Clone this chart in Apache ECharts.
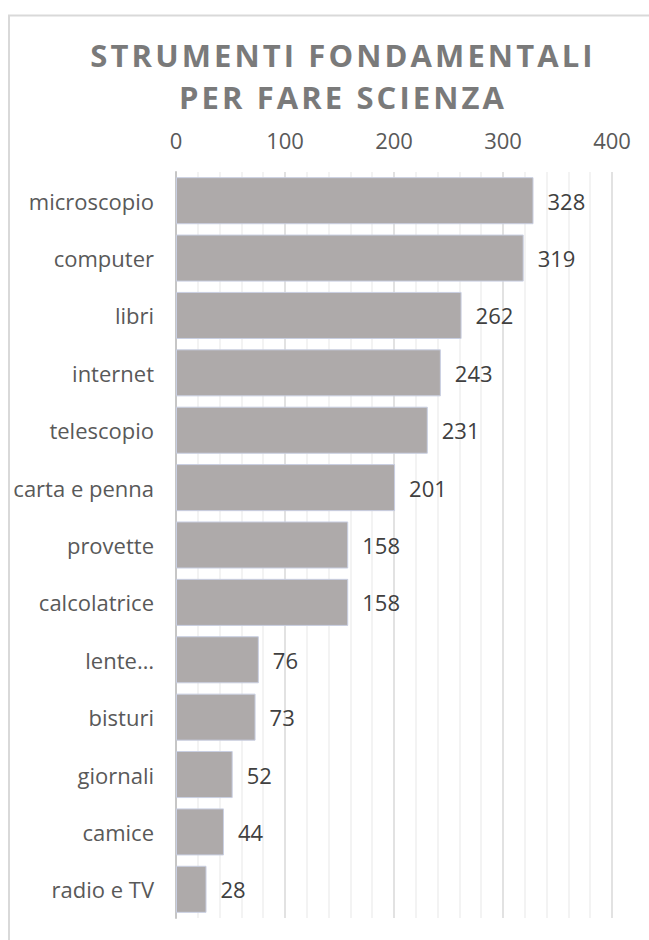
<!DOCTYPE html>
<html>
<head>
<meta charset="utf-8">
<script src="https://cdn.jsdelivr.net/npm/echarts@6/dist/echarts.min.js"></script>
<style>
  html, body { margin: 0; padding: 0; background: #ffffff; }
  #chart { width: 649px; height: 940px; }
  /* wide tracking for the bold chart heading */
  #chart text[style*="bold"] { letter-spacing: 3.1px; }
</style>
</head>
<body>
<div id="chart"></div>
<script>
const titleText = 'STRUMENTI FONDAMENTALI\nPER FARE SCIENZA';
const categories = ['microscopio', 'computer', 'libri', 'internet', 'telescopio', 'carta e penna',
  'provette', 'calcolatrice', 'lente…', 'bisturi', 'giornali', 'camice', 'radio e TV'];
const values = [328, 319, 262, 243, 231, 201, 158, 158, 76, 73, 52, 44, 28];
const axisMin = 0, axisMax = 400, axisStep = 100;

const FONT = '"Open Sans", "Noto Sans", sans-serif';
const chart = echarts.init(document.getElementById('chart'), null, { renderer: 'svg' });

chart.setOption({
  animation: false,
  backgroundColor: '#ffffff',
  graphic: [{
    type: 'rect',
    shape: { x: 9, y: 15.5, width: 720, height: 1000 },
    style: { fill: 'none', stroke: '#d9d9d9', lineWidth: 2 },
    silent: true, z: -10
  }],
  title: {
    text: titleText,
    left: 338, top: 29, textAlign: 'center',
    textStyle: { fontFamily: FONT, fontSize: 31, fontWeight: 'bold', color: '#7a7a7a', lineHeight: 42 }
  },
  grid: { left: 176, right: 37, top: 172, bottom: 22, containLabel: false },
  xAxis: {
    type: 'value', position: 'top',
    min: axisMin, max: axisMax, interval: axisStep,
    axisLine: { show: false }, axisTick: { show: false },
    axisLabel: { color: '#595959', fontFamily: FONT, fontSize: 22, lineHeight: 22, margin: 21 },
    splitLine: { show: true, lineStyle: { color: '#d9d9d9', width: 1.5 } },
    minorTick: { show: false, splitNumber: 5 },
    minorSplitLine: { show: true, lineStyle: { color: '#efefef', width: 1.5 } }
  },
  yAxis: {
    type: 'category', data: categories, inverse: true,
    axisLine: { show: true, lineStyle: { color: '#c6c6c6', width: 2 } },
    axisTick: { show: false },
    axisLabel: { color: '#595959', fontFamily: FONT, fontSize: 22, margin: 22 }
  },
  series: [{
    type: 'bar', data: values,
    barCategoryGap: '18%',
    itemStyle: { color: '#aeaaaa', borderColor: '#c9cfe2', borderWidth: 1 },
    label: { show: true, position: 'right', distance: 14, color: '#404040', fontFamily: FONT, fontSize: 22 }
  }]
});
</script>
</body>
</html>
